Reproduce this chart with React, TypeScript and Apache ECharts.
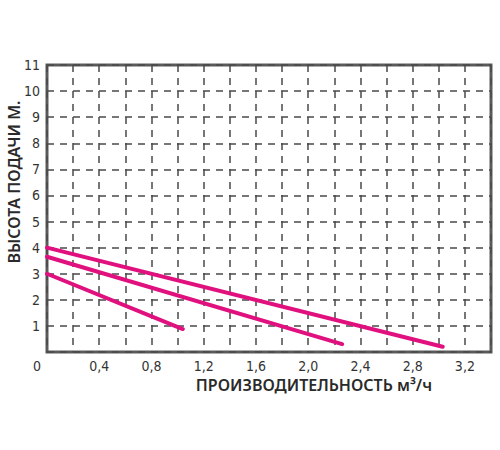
import React, { useEffect, useRef } from "react";
import * as echarts from "echarts";

const xTicks = [0, 0.4, 0.8, 1.2, 1.6, 2.0, 2.4, 2.8, 3.2];
const yTicks = [1, 2, 3, 4, 5, 6, 7, 8, 9, 10, 11];
const curve1: [number, number][] = [[0, 4.0], [3.03, 0.2]];
const curve2: [number, number][] = [[0, 3.65], [2.26, 0.3]];
const curve3: [number, number][] = [[0, 3.0], [1.04, 0.88]];
const yTitle = "ВЫСОТА ПОДАЧИ М.";
const xTitle = "ПРОИЗВОДИТЕЛЬНОСТЬ м³/ч";

const PINK = "#e0117f";
const GRAY = "#4a4a4a";
const TICK_FONT = "'Liberation Sans Narrow', 'DejaVu Sans Condensed', 'Roboto', sans-serif";
const TITLE_FONT = "'Noto Sans', 'Open Sans', sans-serif";

export default function App() {
  const ref = useRef<HTMLDivElement>(null);
  useEffect(() => {
    const chart = echarts.init(ref.current!, null, { renderer: "svg" });
    const isTick = (v: number, arr: number[]) => arr.some((t) => Math.abs(t - v) < 1e-6);
    const line = (data: [number, number][]) => ({
      type: "line",
      data,
      showSymbol: false,
      symbol: "none",
      lineStyle: { color: PINK, width: 4, cap: "round" },
      silent: true,
    });
    chart.setOption({
      animation: false,
      grid: {
        left: 47,
        right: 9,
        top: 65,
        bottom: 98,
        show: true,
        borderColor: "#5a5a5a",
        borderWidth: 3,
        backgroundColor: "transparent",
      },
      xAxis: {
        type: "value",
        min: 0,
        max: 3.4,
        interval: 0.2,
        axisLine: { show: false },
        axisTick: { show: false },
        splitLine: { show: true, lineStyle: { color: GRAY, width: 1.5, type: [7, 6] } },
        axisLabel: {
          margin: 7,
          color: "#333",
          fontSize: 14,
          fontFamily: TICK_FONT,
          showMinLabel: true,
          showMaxLabel: false,
          formatter: (v: number) => {
            if (!isTick(v, xTicks)) return "";
            if (Math.abs(v) < 1e-6) return "{z|0}";
            return v.toFixed(1).replace(".", ",");
          },
          rich: {
            z: { padding: [0, 20, 0, 0], fontSize: 14, fontFamily: TICK_FONT, color: "#333" },
          },
        },
      },
      yAxis: {
        type: "value",
        min: 0,
        max: 11,
        interval: 1,
        axisLine: { show: false },
        axisTick: { show: false },
        splitLine: { show: true, lineStyle: { color: GRAY, width: 1.5, type: [7, 6] } },
        axisLabel: {
          margin: 7,
          color: "#333",
          fontSize: 14,
          fontFamily: TICK_FONT,
          formatter: (v: number) => (isTick(v, yTicks) ? String(v) : ""),
        },
      },
      graphic: [
        {
          type: "text",
          x: 14,
          y: 182,
          rotation: Math.PI / 2,
          style: {
            text: yTitle,
            fill: "#2a2a2a",
            font: `600 16px ${TITLE_FONT}`,
            align: "center",
            verticalAlign: "middle",
          },
        },
        {
          type: "text",
          x: 314,
          y: 385,
          style: {
            text: xTitle,
            fill: "#2a2a2a",
            font: `600 16px ${TITLE_FONT}`,
            align: "center",
            verticalAlign: "middle",
          },
        },
      ],
      series: [line(curve1), line(curve2), line(curve3)],
    });
    return () => chart.dispose();
  }, []);
  return (
    <div
      ref={ref}
      style={{ position: "absolute", left: 0, top: 0, width: 500, height: 450 }}
    />
  );
}
